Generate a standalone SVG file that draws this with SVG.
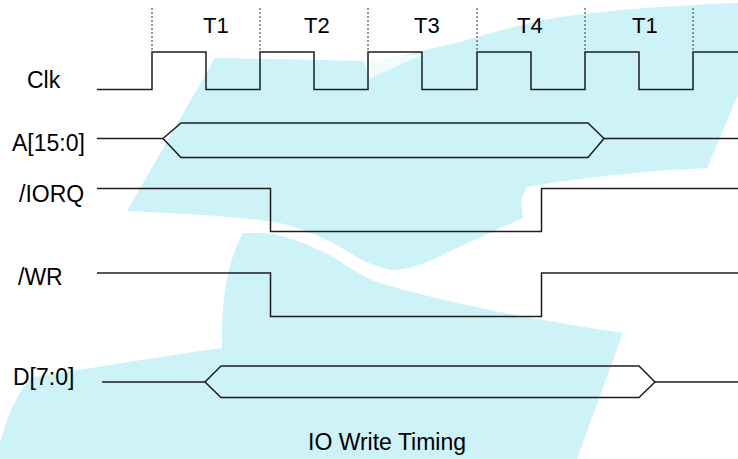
<svg xmlns="http://www.w3.org/2000/svg" width="738" height="459" viewBox="0 0 738 459">
  <defs>
    <style>
      .wm { fill: #cdf2f8; stroke: none; }
      .sig { fill: none; stroke: #1e1e1e; stroke-width: 1.5; stroke-linejoin: miter; }
      .grid { fill: none; stroke: #333; stroke-width: 1; stroke-dasharray: 2 2; }
      .lbl { font-family: "Liberation Sans", Arial, sans-serif; font-size: 23px; fill: #000; }
      .tl { font-family: "Liberation Sans", Arial, sans-serif; font-size: 22px; fill: #000; }
    </style>
  </defs>
  <rect x="0" y="0" width="738" height="459" fill="#ffffff"/>

  <g id="watermark">
    <path class="wm" d="M215,58 L369,61 C400,58 430,48 460,42 C490,33 530,22 560,17 C620,9 680,5 738,3 L738,95 L707,168 C660,170 590,176 527,187 L521,200 L523,218 C500,228 480,238 463,245 C440,256 420,268 395,270 C370,268 350,252 333,243 C310,232 290,224 273,222 C250,218 200,214 127,211 Z"/>
    <path class="wm" d="M243,233 C255,233 265,233 273,234 C300,240 320,250 333,257 C350,268 365,278 380,283 C420,295 500,315 623,333 L577,459 L0,459 L0,443 C8,415 18,390 33,377 C80,370 150,358 222,348 C221,310 225,265 243,233 Z"/>
    <path d="M362,59 C385,57 405,55 425,54 C405,62 385,72 370,78 Z" fill="#ffffff" opacity="0.75"/>
  </g>

  <g id="grid">
    <line class="grid" x1="152" y1="8" x2="152" y2="51"/>
    <line class="grid" x1="260" y1="8" x2="260" y2="51"/>
    <line class="grid" x1="368" y1="8" x2="368" y2="51"/>
    <line class="grid" x1="477" y1="8" x2="477" y2="51"/>
    <line class="grid" x1="585" y1="8" x2="585" y2="51"/>
    <line class="grid" x1="693" y1="8" x2="693" y2="51"/>
  </g>

  <g id="states">
    <text class="tl" x="203" y="33">T1</text>
    <text class="tl" x="304" y="33">T2</text>
    <text class="tl" x="414" y="33">T3</text>
    <text class="tl" x="517" y="33">T4</text>
    <text class="tl" x="632" y="33">T1</text>
  </g>

  <g id="clk">
    <text class="lbl" x="27" y="88">Clk</text>
    <path class="sig" d="M97,89.5 H152 V52 H206 V89.5 H260 V52 H314 V89.5 H368 V52 H422 V89.5 H477 V52 H531 V89.5 H585 V52 H639 V89.5 H693 V52 H738"/>
  </g>

  <g id="addr">
    <text class="lbl" x="12" y="151">A[15:0]</text>
    <path class="sig" d="M97,138.5 H163 M604,138.5 H738"/>
    <path class="sig" d="M163,138.5 L181,123 H588 L604,138.5 L588,157.5 H181 Z"/>
  </g>

  <g id="iorq">
    <text class="lbl" x="19" y="202">/IORQ</text>
    <path class="sig" d="M97,188.5 H270.5 V231.5 H541.5 V188.5 H738"/>
  </g>

  <g id="wr">
    <text class="lbl" x="18" y="285">/WR</text>
    <path class="sig" d="M97,273 H270.5 V316.5 H541.5 V273 H738"/>
  </g>

  <g id="data">
    <text class="lbl" x="13" y="385">D[7:0]</text>
    <path class="sig" d="M102,382 H205 M655,382 H738"/>
    <path class="sig" d="M205,382 L221,366 H639 L655,382 L639,397.5 H221 Z"/>
  </g>

  <g id="title">
    <text class="lbl" x="308" y="450">IO Write Timing</text>
  </g>
</svg>
